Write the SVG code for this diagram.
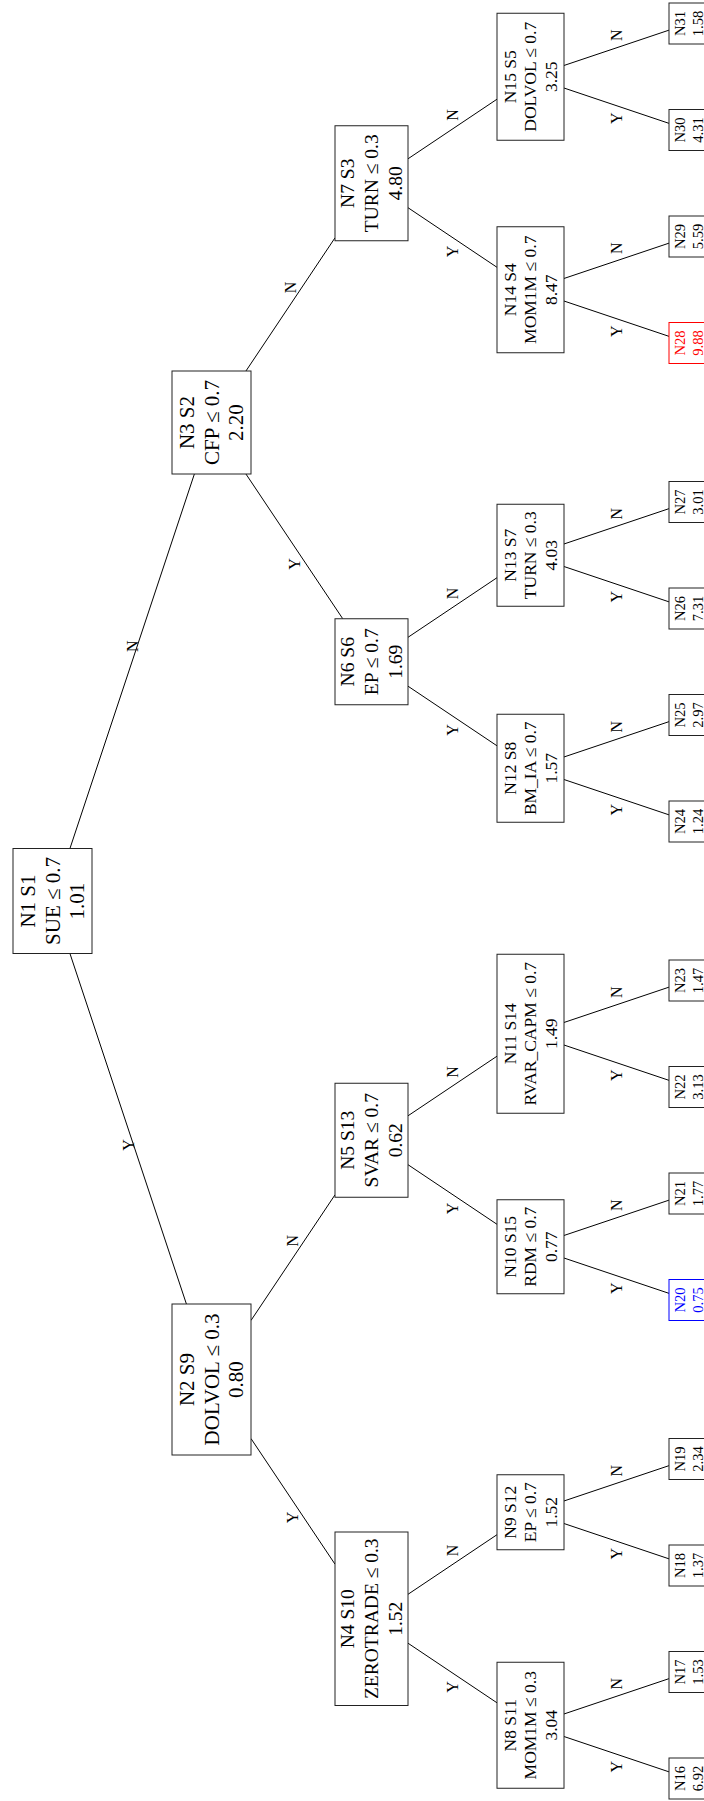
<svg xmlns="http://www.w3.org/2000/svg" width="704" height="1801" viewBox="0 0 704 1801">
<style>
.box{fill:#fff;stroke:#222;stroke-width:1}
.t{font-family:"Liberation Serif","DejaVu Serif",serif;text-anchor:middle;fill:#000}
.f0{font-size:21px}
.f2{font-size:19.5px}
.f3{font-size:17.5px}
.f4{font-size:14.5px}
.edge{stroke:#000;stroke-width:1;fill:none}
.lbl{font-family:"Liberation Serif","DejaVu Serif",serif;font-size:16px;text-anchor:middle;fill:#000}
.blue .box{stroke:#0000ff}
.blue .t{fill:#0000ff}
.red .box{stroke:#ff0000}
.red .t{fill:#ff0000}
</style>
<rect width="704" height="1801" fill="#fff"/>
<g id="connectors">
<path class="edge" d="M69.94,848.5L194.39,474"/>
<path class="edge" d="M69.94,953.5L186.41,1304"/>
<path class="edge" d="M245.94,371L335,237.83"/>
<path class="edge" d="M245.94,474L342.75,618.75"/>
<path class="edge" d="M251,1320.43L335,1194.83"/>
<path class="edge" d="M251,1438.57L335,1564.17"/>
<path class="edge" d="M408,158.8L497,99.19"/>
<path class="edge" d="M408,207.7L497,267.31"/>
<path class="edge" d="M408,637.3L497,577.69"/>
<path class="edge" d="M408,686.2L497,745.81"/>
<path class="edge" d="M408,1115.8L497,1056.19"/>
<path class="edge" d="M408,1164.7L497,1224.31"/>
<path class="edge" d="M408,1594.3L497,1534.69"/>
<path class="edge" d="M408,1643.2L497,1702.81"/>
<path class="edge" d="M564,65.48L669,30.15"/>
<path class="edge" d="M564,88.02L669,123.35"/>
<path class="edge" d="M564,278.48L669,243.15"/>
<path class="edge" d="M564,301.02L669,336.35"/>
<path class="edge" d="M564,543.98L669,508.65"/>
<path class="edge" d="M564,566.52L669,601.85"/>
<path class="edge" d="M564,756.98L669,721.65"/>
<path class="edge" d="M564,779.52L669,814.85"/>
<path class="edge" d="M564,1022.48L669,987.15"/>
<path class="edge" d="M564,1045.02L669,1080.35"/>
<path class="edge" d="M564,1235.48L669,1200.15"/>
<path class="edge" d="M564,1258.02L669,1293.35"/>
<path class="edge" d="M564,1500.98L669,1465.65"/>
<path class="edge" d="M564,1523.52L669,1558.85"/>
<path class="edge" d="M564,1713.98L669,1678.65"/>
<path class="edge" d="M564,1736.52L669,1771.85"/>
<g class="labels">
<text class="lbl" transform="translate(132.2,646.3) rotate(-90)" y="5.3">N</text>
<text class="lbl" transform="translate(128.2,1145) rotate(-90)" y="5.3">Y</text>
<text class="lbl" transform="translate(290.5,287.4) rotate(-90)" y="5.3">N</text>
<text class="lbl" transform="translate(294.3,564) rotate(-90)" y="5.3">Y</text>
<text class="lbl" transform="translate(293,1240.6) rotate(-90)" y="5.3">N</text>
<text class="lbl" transform="translate(293,1517.4) rotate(-90)" y="5.3">Y</text>
<text class="lbl" transform="translate(452.5,115) rotate(-90)" y="5.3">N</text>
<text class="lbl" transform="translate(452.5,251.5) rotate(-90)" y="5.3">Y</text>
<text class="lbl" transform="translate(452.5,593.5) rotate(-90)" y="5.3">N</text>
<text class="lbl" transform="translate(452.5,730) rotate(-90)" y="5.3">Y</text>
<text class="lbl" transform="translate(452.5,1072) rotate(-90)" y="5.3">N</text>
<text class="lbl" transform="translate(452.5,1208.5) rotate(-90)" y="5.3">Y</text>
<text class="lbl" transform="translate(452.5,1550.5) rotate(-90)" y="5.3">N</text>
<text class="lbl" transform="translate(452.5,1687) rotate(-90)" y="5.3">Y</text>
<text class="lbl" transform="translate(616.5,35.3) rotate(-90)" y="5.3">N</text>
<text class="lbl" transform="translate(616.5,118.2) rotate(-90)" y="5.3">Y</text>
<text class="lbl" transform="translate(616.5,248.3) rotate(-90)" y="5.3">N</text>
<text class="lbl" transform="translate(616.5,331.2) rotate(-90)" y="5.3">Y</text>
<text class="lbl" transform="translate(616.5,513.8) rotate(-90)" y="5.3">N</text>
<text class="lbl" transform="translate(616.5,596.7) rotate(-90)" y="5.3">Y</text>
<text class="lbl" transform="translate(616.5,726.8) rotate(-90)" y="5.3">N</text>
<text class="lbl" transform="translate(616.5,809.7) rotate(-90)" y="5.3">Y</text>
<text class="lbl" transform="translate(616.5,992.3) rotate(-90)" y="5.3">N</text>
<text class="lbl" transform="translate(616.5,1075.2) rotate(-90)" y="5.3">Y</text>
<text class="lbl" transform="translate(616.5,1205.3) rotate(-90)" y="5.3">N</text>
<text class="lbl" transform="translate(616.5,1288.2) rotate(-90)" y="5.3">Y</text>
<text class="lbl" transform="translate(616.5,1470.8) rotate(-90)" y="5.3">N</text>
<text class="lbl" transform="translate(616.5,1553.7) rotate(-90)" y="5.3">Y</text>
<text class="lbl" transform="translate(616.5,1683.8) rotate(-90)" y="5.3">N</text>
<text class="lbl" transform="translate(616.5,1766.7) rotate(-90)" y="5.3">Y</text>
</g>
</g>
<g id="N1" transform="translate(52.5,901) rotate(-90)"><rect class="box" x="-52.5" y="-39.5" width="105" height="79"/><text class="t f0"><tspan x="0" y="-17.5">N1 S1</tspan><tspan x="0" y="7">SUE ≤ 0.7</tspan><tspan x="0" y="31.5">1.01</tspan></text></g>
<g id="N2" transform="translate(211.5,1379.5) rotate(-90)"><rect class="box" x="-75.5" y="-39.5" width="151" height="79"/><text class="t f0"><tspan x="0" y="-17.5">N2 S9</tspan><tspan x="0" y="7">DOLVOL ≤ 0.3</tspan><tspan x="0" y="31.5">0.80</tspan></text></g>
<g id="N3" transform="translate(211.5,422.5) rotate(-90)"><rect class="box" x="-51.5" y="-39.5" width="103" height="79"/><text class="t f0"><tspan x="0" y="-17.5">N3 S2</tspan><tspan x="0" y="7">CFP ≤ 0.7</tspan><tspan x="0" y="31.5">2.20</tspan></text></g>
<g id="N4" transform="translate(371.5,1618.75) rotate(-90)"><rect class="box" x="-86.75" y="-36.5" width="173.5" height="73"/><text class="t f2"><tspan x="0" y="-17.3">N4 S10</tspan><tspan x="0" y="6.4">ZEROTRADE ≤ 0.3</tspan><tspan x="0" y="30.1">1.52</tspan></text></g>
<g id="N5" transform="translate(371.5,1140.25) rotate(-90)"><rect class="box" x="-57" y="-36.5" width="114" height="73"/><text class="t f2"><tspan x="0" y="-17.3">N5 S13</tspan><tspan x="0" y="6.4">SVAR ≤ 0.7</tspan><tspan x="0" y="30.1">0.62</tspan></text></g>
<g id="N6" transform="translate(371.5,661.75) rotate(-90)"><rect class="box" x="-43" y="-36.5" width="86" height="73"/><text class="t f2"><tspan x="0" y="-17.3">N6 S6</tspan><tspan x="0" y="6.4">EP ≤ 0.7</tspan><tspan x="0" y="30.1">1.69</tspan></text></g>
<g id="N7" transform="translate(371.5,183.25) rotate(-90)"><rect class="box" x="-57.5" y="-36.5" width="115" height="73"/><text class="t f2"><tspan x="0" y="-17.3">N7 S3</tspan><tspan x="0" y="6.4">TURN ≤ 0.3</tspan><tspan x="0" y="30.1">4.80</tspan></text></g>
<g id="N8" transform="translate(530.5,1725.25) rotate(-90)"><rect class="box" x="-63" y="-33.5" width="126" height="67"/><text class="t f3"><tspan x="0" y="-14.7">N8 S11</tspan><tspan x="0" y="5.8">MOM1M ≤ 0.3</tspan><tspan x="0" y="26.3">3.04</tspan></text></g>
<g id="N9" transform="translate(530.5,1512.25) rotate(-90)"><rect class="box" x="-37.5" y="-33.5" width="75" height="67"/><text class="t f3"><tspan x="0" y="-14.7">N9 S12</tspan><tspan x="0" y="5.8">EP ≤ 0.7</tspan><tspan x="0" y="26.3">1.52</tspan></text></g>
<g id="N10" transform="translate(530.5,1246.75) rotate(-90)"><rect class="box" x="-47" y="-33.5" width="94" height="67"/><text class="t f3"><tspan x="0" y="-14.7">N10 S15</tspan><tspan x="0" y="5.8">RDM ≤ 0.7</tspan><tspan x="0" y="26.3">0.77</tspan></text></g>
<g id="N11" transform="translate(530.5,1033.75) rotate(-90)"><rect class="box" x="-79.5" y="-33.5" width="159" height="67"/><text class="t f3"><tspan x="0" y="-14.7">N11 S14</tspan><tspan x="0" y="5.8">RVAR_CAPM ≤ 0.7</tspan><tspan x="0" y="26.3">1.49</tspan></text></g>
<g id="N12" transform="translate(530.5,768.25) rotate(-90)"><rect class="box" x="-54" y="-33.5" width="108" height="67"/><text class="t f3"><tspan x="0" y="-14.7">N12 S8</tspan><tspan x="0" y="5.8">BM_IA ≤ 0.7</tspan><tspan x="0" y="26.3">1.57</tspan></text></g>
<g id="N13" transform="translate(530.5,555.25) rotate(-90)"><rect class="box" x="-51" y="-33.5" width="102" height="67"/><text class="t f3"><tspan x="0" y="-14.7">N13 S7</tspan><tspan x="0" y="5.8">TURN ≤ 0.3</tspan><tspan x="0" y="26.3">4.03</tspan></text></g>
<g id="N14" transform="translate(530.5,289.75) rotate(-90)"><rect class="box" x="-63" y="-33.5" width="126" height="67"/><text class="t f3"><tspan x="0" y="-14.7">N14 S4</tspan><tspan x="0" y="5.8">MOM1M ≤ 0.7</tspan><tspan x="0" y="26.3">8.47</tspan></text></g>
<g id="N15" transform="translate(530.5,76.75) rotate(-90)"><rect class="box" x="-63.5" y="-33.5" width="127" height="67"/><text class="t f3"><tspan x="0" y="-14.7">N15 S5</tspan><tspan x="0" y="5.8">DOLVOL ≤ 0.7</tspan><tspan x="0" y="26.3">3.25</tspan></text></g>
<g id="N16" transform="translate(688.75,1778.5) rotate(-90)"><rect class="box" x="-20.5" y="-19.75" width="41" height="39.5"/><text class="t f4"><tspan x="0" y="-4.2">N16</tspan><tspan x="0" y="13.8">6.92</tspan></text></g>
<g id="N17" transform="translate(688.75,1672) rotate(-90)"><rect class="box" x="-20.5" y="-19.75" width="41" height="39.5"/><text class="t f4"><tspan x="0" y="-4.2">N17</tspan><tspan x="0" y="13.8">1.53</tspan></text></g>
<g id="N18" transform="translate(688.75,1565.5) rotate(-90)"><rect class="box" x="-20.5" y="-19.75" width="41" height="39.5"/><text class="t f4"><tspan x="0" y="-4.2">N18</tspan><tspan x="0" y="13.8">1.37</tspan></text></g>
<g id="N19" transform="translate(688.75,1459) rotate(-90)"><rect class="box" x="-20.5" y="-19.75" width="41" height="39.5"/><text class="t f4"><tspan x="0" y="-4.2">N19</tspan><tspan x="0" y="13.8">2.34</tspan></text></g>
<g id="N20" class="blue" transform="translate(688.75,1300) rotate(-90)"><rect class="box" x="-20.5" y="-19.75" width="41" height="39.5"/><text class="t f4"><tspan x="0" y="-4.2">N20</tspan><tspan x="0" y="13.8">0.75</tspan></text></g>
<g id="N21" transform="translate(688.75,1193.5) rotate(-90)"><rect class="box" x="-20.5" y="-19.75" width="41" height="39.5"/><text class="t f4"><tspan x="0" y="-4.2">N21</tspan><tspan x="0" y="13.8">1.77</tspan></text></g>
<g id="N22" transform="translate(688.75,1087) rotate(-90)"><rect class="box" x="-20.5" y="-19.75" width="41" height="39.5"/><text class="t f4"><tspan x="0" y="-4.2">N22</tspan><tspan x="0" y="13.8">3.13</tspan></text></g>
<g id="N23" transform="translate(688.75,980.5) rotate(-90)"><rect class="box" x="-20.5" y="-19.75" width="41" height="39.5"/><text class="t f4"><tspan x="0" y="-4.2">N23</tspan><tspan x="0" y="13.8">1.47</tspan></text></g>
<g id="N24" transform="translate(688.75,821.5) rotate(-90)"><rect class="box" x="-20.5" y="-19.75" width="41" height="39.5"/><text class="t f4"><tspan x="0" y="-4.2">N24</tspan><tspan x="0" y="13.8">1.24</tspan></text></g>
<g id="N25" transform="translate(688.75,715) rotate(-90)"><rect class="box" x="-20.5" y="-19.75" width="41" height="39.5"/><text class="t f4"><tspan x="0" y="-4.2">N25</tspan><tspan x="0" y="13.8">2.97</tspan></text></g>
<g id="N26" transform="translate(688.75,608.5) rotate(-90)"><rect class="box" x="-20.5" y="-19.75" width="41" height="39.5"/><text class="t f4"><tspan x="0" y="-4.2">N26</tspan><tspan x="0" y="13.8">7.31</tspan></text></g>
<g id="N27" transform="translate(688.75,502) rotate(-90)"><rect class="box" x="-20.5" y="-19.75" width="41" height="39.5"/><text class="t f4"><tspan x="0" y="-4.2">N27</tspan><tspan x="0" y="13.8">3.01</tspan></text></g>
<g id="N28" class="red" transform="translate(688.75,343) rotate(-90)"><rect class="box" x="-20.5" y="-19.75" width="41" height="39.5"/><text class="t f4"><tspan x="0" y="-4.2">N28</tspan><tspan x="0" y="13.8">9.88</tspan></text></g>
<g id="N29" transform="translate(688.75,236.5) rotate(-90)"><rect class="box" x="-20.5" y="-19.75" width="41" height="39.5"/><text class="t f4"><tspan x="0" y="-4.2">N29</tspan><tspan x="0" y="13.8">5.59</tspan></text></g>
<g id="N30" transform="translate(688.75,130) rotate(-90)"><rect class="box" x="-20.5" y="-19.75" width="41" height="39.5"/><text class="t f4"><tspan x="0" y="-4.2">N30</tspan><tspan x="0" y="13.8">4.31</tspan></text></g>
<g id="N31" transform="translate(688.75,23.5) rotate(-90)"><rect class="box" x="-20.5" y="-19.75" width="41" height="39.5"/><text class="t f4"><tspan x="0" y="-4.2">N31</tspan><tspan x="0" y="13.8">1.58</tspan></text></g>
</svg>
